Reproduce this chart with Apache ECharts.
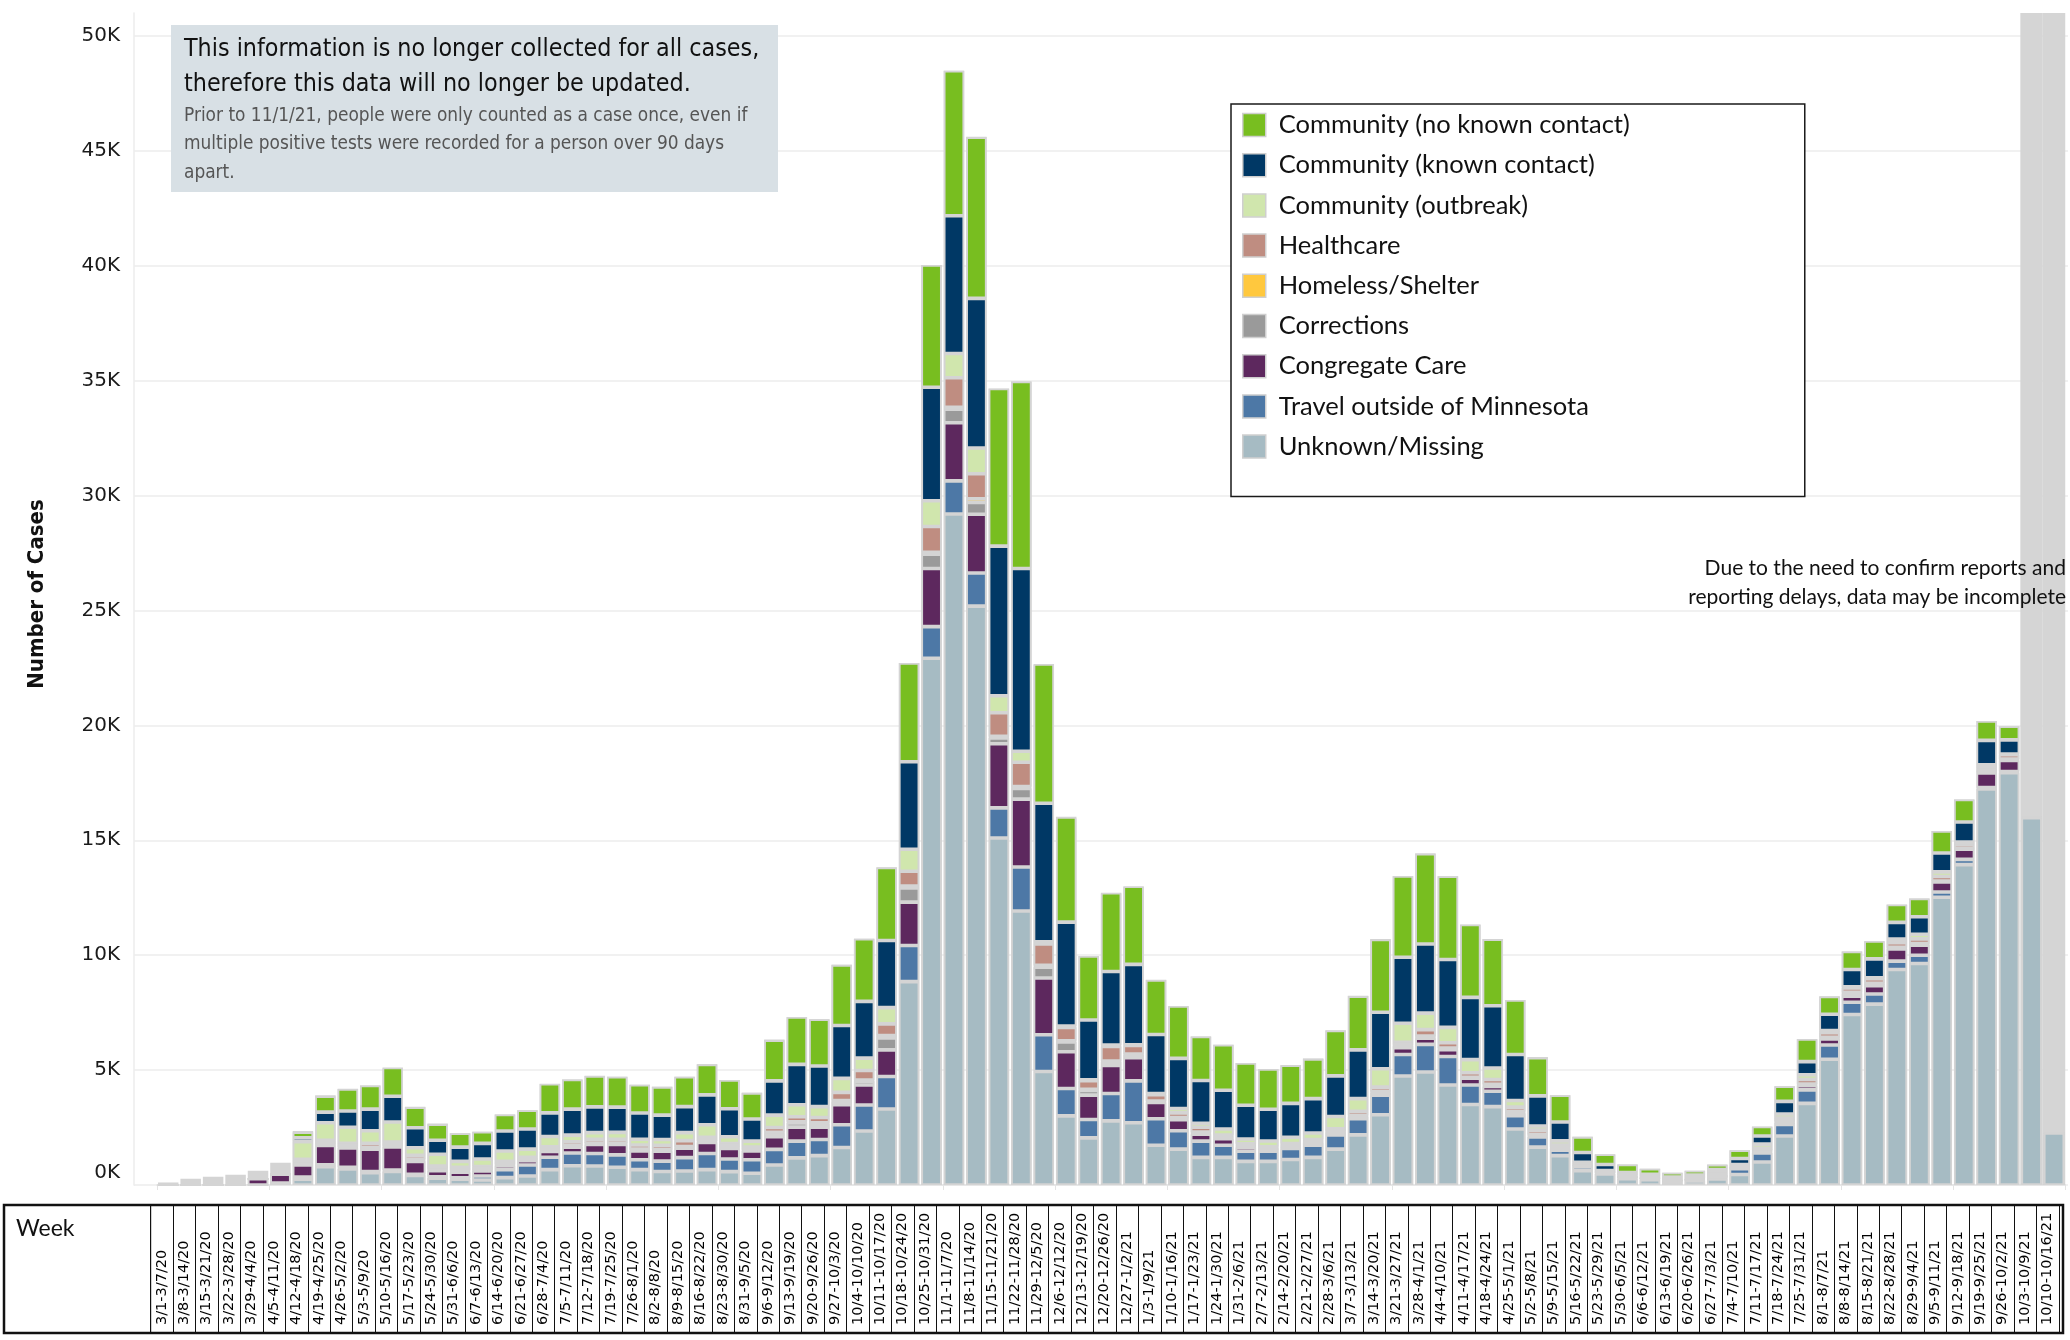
<!DOCTYPE html>
<html><head><meta charset="utf-8">
<script src="https://cdn.jsdelivr.net/npm/echarts@6/dist/echarts.min.js"></script>
<style>html,body{margin:0;padding:0;background:#fff}#c{width:2070px;height:1340px}</style>
</head><body><div id="c"></div>
<script>
const weeks = ['3/1-3/7/20','3/8-3/14/20','3/15-3/21/20','3/22-3/28/20','3/29-4/4/20','4/5-4/11/20','4/12-4/18/20','4/19-4/25/20','4/26-5/2/20','5/3-5/9/20','5/10-5/16/20','5/17-5/23/20','5/24-5/30/20','5/31-6/6/20','6/7-6/13/20','6/14-6/20/20','6/21-6/27/20','6/28-7/4/20','7/5-7/11/20','7/12-7/18/20','7/19-7/25/20','7/26-8/1/20','8/2-8/8/20','8/9-8/15/20','8/16-8/22/20','8/23-8/30/20','8/31-9/5/20','9/6-9/12/20','9/13-9/19/20','9/20-9/26/20','9/27-10/3/20','10/4-10/10/20','10/11-10/17/20','10/18-10/24/20','10/25-10/31/20','11/1-11/7/20','11/8-11/14/20','11/15-11/21/20','11/22-11/28/20','11/29-12/5/20','12/6-12/12/20','12/13-12/19/20','12/20-12/26/20','12/27-1/2/21','1/3-1/9/21','1/10-1/16/21','1/17-1/23/21','1/24-1/30/21','1/31-2/6/21','2/7-2/13/21','2/14-2/20/21','2/21-2/27/21','2/28-3/6/21','3/7-3/13/21','3/14-3/20/21','3/21-3/27/21','3/28-4/1/21','4/4-4/10/21','4/11-4/17/21','4/18-4/24/21','4/25-5/1/21','5/2-5/8/21','5/9-5/15/21','5/16-5/22/21','5/23-5/29/21','5/30-6/5/21','6/6-6/12/21','6/13-6/19/21','6/20-6/26/21','6/27-7/3/21','7/4-7/10/21','7/11-7/17/21','7/18-7/24/21','7/25-7/31/21','8/1-8/7/21','8/8-8/14/21','8/15-8/21/21','8/22-8/28/21','8/29-9/4/21','9/5-9/11/21','9/12-9/18/21','9/19-9/25/21','9/26-10/2/21','10/3-10/9/21','10/10-10/16/21'];

const unknownMissing = [0,0,0,0,0,90,250,800,700,530,590,420,300,250,220,320,390,670,840,830,770,670,590,610,670,580,510,870,1180,1280,1630,2350,3310,8850,22920,29200,25190,15100,11920,4940,3010,2050,2790,2710,1730,1560,1200,1200,1030,1030,1110,1200,1560,2180,3060,4740,4920,4350,3500,3410,2440,1650,1280,620,480,270,230,140,180,266,460,1000,2130,3550,5470,7420,7870,9380,9640,12520,13940,17230,17940,15980,2260];
const travel = [0,0,0,0,0,0,100,80,70,60,60,50,60,60,170,350,480,540,550,540,540,430,450,580,700,550,590,680,730,700,990,1130,1410,1570,1380,1440,1440,1310,1920,1600,1190,800,1190,1820,1150,800,710,530,440,440,480,530,620,710,850,940,1200,1240,850,670,580,440,230,170,60,60,50,40,40,90,250,390,500,590,620,530,440,360,360,230,230,60,50,0,0];
const congregateCare = [0,0,0,0,270,380,520,840,840,970,1010,560,260,250,220,170,190,250,260,390,450,380,430,410,480,460,380,550,610,540,870,870,1160,1890,2530,2530,2560,2790,2950,2470,1600,1060,1220,1010,710,480,300,280,160,100,100,120,110,80,100,300,270,300,300,210,100,60,80,40,20,15,15,10,10,15,20,60,80,180,270,270,360,530,440,440,440,640,480,0,0];
const corrections = [0,0,0,0,0,0,80,40,40,60,40,60,60,50,40,40,30,40,50,50,50,60,60,50,50,40,40,150,180,150,150,170,520,620,620,590,510,250,470,470,420,200,150,120,40,60,60,60,60,30,40,50,60,40,50,90,60,50,20,60,60,40,40,15,10,10,5,5,5,10,10,50,60,50,50,110,80,50,50,25,25,35,50,0,0];
const homelessShelter = [0,0,0,0,0,0,20,20,20,20,20,30,30,30,20,20,20,20,20,20,20,20,20,20,20,20,20,40,50,40,40,50,100,80,85,85,160,70,75,75,60,50,40,40,20,30,30,30,30,15,20,20,20,20,20,30,30,20,15,30,30,20,20,10,5,5,5,5,5,5,5,20,20,20,20,50,30,20,20,10,10,15,20,0,0];
const healthcare = [0,0,0,0,0,0,150,160,140,180,150,170,120,130,130,130,100,140,160,160,160,180,180,260,160,150,110,210,220,230,350,410,510,640,1120,1280,1090,1030,1060,930,580,380,640,370,280,210,210,70,70,50,50,60,80,180,180,110,280,230,200,210,180,180,90,40,20,20,15,10,10,20,30,80,120,200,200,200,200,200,200,200,160,160,180,0,0];
const communityOutbreak = [0,0,0,0,0,0,760,770,700,540,870,330,510,260,330,450,350,450,290,290,300,250,250,350,540,300,260,540,520,470,610,540,710,960,1120,1060,1120,740,480,100,60,40,60,30,50,190,180,270,210,250,280,280,530,550,800,830,720,670,570,500,290,180,180,90,30,50,40,40,50,130,110,180,180,210,90,40,40,160,200,200,120,140,30,0,0];
const communityKnown = [0,0,0,0,0,0,170,460,710,940,1120,870,610,620,680,870,880,1030,1130,1120,1100,1140,1060,1130,1300,1220,960,1490,1760,1770,2300,2470,2920,3810,4940,5990,6510,6510,7950,6030,4520,2600,3200,3500,2570,2180,1860,1680,1470,1380,1470,1500,1770,2120,2460,2870,3010,2950,2710,2710,2000,1310,820,430,270,110,110,100,130,140,270,355,550,570,710,760,820,730,760,820,870,1070,620,0,0];
const communityNoKnown = [0,0,0,0,0,0,250,690,960,1030,1250,900,700,600,510,720,810,1270,1290,1350,1320,1230,1230,1300,1330,1250,1140,1770,2060,2030,2640,2730,3180,4300,5320,6310,7020,6860,8140,6060,4580,2790,3430,3400,2370,2280,1910,1980,1840,1750,1660,1730,1980,2340,3170,3540,3930,3630,3170,2900,2370,1660,1170,680,440,350,240,180,190,210,355,410,660,980,780,780,780,780,800,960,980,840,590,0,0];
const weekTotals = [110,275,360,450,620,970,2350,3910,4190,4330,5070,3400,2680,2250,2320,3070,3250,4400,4590,4740,4710,4360,4270,4710,5250,4570,4010,6330,7300,7210,9580,10720,13830,22720,40030,48490,45610,34650,34970,22630,15960,9970,12690,12970,8930,7780,6460,6100,5310,5040,5220,5500,6720,8230,10700,13440,14420,13440,11320,10700,8050,5570,3910,2100,1330,890,710,530,620,890,1510,2540,4300,6340,8200,10160,10600,12200,12470,15400,16780,20190,19950,15980,2260];
const yTicks = [0,5000,10000,15000,20000,25000,30000,35000,40000,45000,50000];
const incompleteWeeks = ['10/3-10/9/21','10/10-10/16/21'];

const stackDefs = [
  ['Unknown/Missing', unknownMissing, '#a6bbc3'],
  ['Travel outside of Minnesota', travel, '#4d78a6'],
  ['Congregate Care', congregateCare, '#5d285e'],
  ['Corrections', corrections, '#9a9a9a'],
  ['Homeless/Shelter', homelessShelter, '#ffc83e'],
  ['Healthcare', healthcare, '#bf8d81'],
  ['Community (outbreak)', communityOutbreak, '#d0e6ad'],
  ['Community (known contact)', communityKnown, '#003865'],
  ['Community (no known contact)', communityNoKnown, '#78be20']
];
const legendOrder = stackDefs.map(d => d[0]).reverse();

const BORDER = '#d4d4d4';
const BAR_W = 20.5;
const YMAX = 51000;
const GRID_TOP = 13, GRID_BOTTOM = 155;
const NARROW = "'Liberation Sans Narrow', 'DejaVu Sans Condensed', Roboto";

const series = [{
  name: 'Incomplete', type: 'bar', xAxisIndex: 2, yAxisIndex: 3, barWidth: '100%', z: 1, silent: true,
  data: weeks.map(w => incompleteWeeks.indexOf(w) >= 0 ? YMAX : null),
  itemStyle: { color: '#d5d5d5' }
}, {
  name: 'Total', type: 'bar', data: weekTotals, xAxisIndex: 0, yAxisIndex: 0,
  barWidth: BAR_W, barGap: '-100%', z: 2, silent: true,
  itemStyle: { color: BORDER, borderColor: BORDER, borderWidth: 1.8 }
}];
stackDefs.forEach(([name, data, color]) => {
  series.push({
    name, type: 'bar', stack: 'cases', data, xAxisIndex: 0, yAxisIndex: 0,
    barWidth: BAR_W, barGap: '-100%', z: 3, silent: true,
    itemStyle: { color, borderColor: BORDER, borderWidth: 1.8 }
  });
});

const chart = echarts.init(document.getElementById('c'), null, { renderer: 'canvas' });
chart.setOption({
  animation: false,
  backgroundColor: '#fff',
  grid: [
    { left: 157, right: 4.75, top: GRID_TOP, bottom: GRID_BOTTOM },
    { left: 134, right: 2, top: GRID_TOP, bottom: GRID_BOTTOM },
    { left: 150.6, width: 85 * 22.45, top: 1205, height: 128 }
  ],
  xAxis: [
    { type: 'category', gridIndex: 0, data: weeks, boundaryGap: true,
      axisLabel: { show: false },
      axisTick: { show: true, length: 5, lineStyle: { color: '#e4e4e4' } },
      axisLine: { lineStyle: { color: '#e4e4e4', width: 1.5 } } },
    { type: 'category', gridIndex: 2, data: weeks, boundaryGap: true, position: 'bottom',
      axisLine: { show: false }, axisTick: { show: false },
      splitLine: { show: true, lineStyle: { color: '#111', width: 1 } },
      axisLabel: { inside: true, rotate: 90, margin: 8, interval: 0,
        fontFamily: 'DejaVu Sans', fontSize: 14.5, color: '#000' } },
    { type: 'category', gridIndex: 0, data: weeks, show: false },
    { type: 'value', gridIndex: 1, show: false, min: 0, max: 1 }
  ],
  yAxis: [
    { type: 'value', gridIndex: 0, min: 0, max: YMAX, show: false, splitLine: { show: false } },
    { type: 'value', gridIndex: 1, min: 0, max: YMAX, interval: 5000,
      axisLine: { show: true, lineStyle: { color: '#ececec', width: 1.5 } },
      axisTick: { show: false },
      splitLine: { show: true, showMaxLine: false, lineStyle: { color: '#ececec', width: 1.5 } },
      axisLabel: { margin: 14, fontFamily: 'DejaVu Sans', fontSize: 20, color: '#1a1a1a', showMaxLabel: false,
        formatter: v => yTicks.indexOf(v) < 0 ? '' : (v === 0 ? '{z|0K}' : (v / 1000) + 'K'),
        rich: { z: { fontFamily: 'DejaVu Sans', fontSize: 20, color: '#1a1a1a', padding: [0, 0, 24, 0] } } } },
    { type: 'value', gridIndex: 2, show: false },
    { type: 'value', gridIndex: 0, min: 0, max: YMAX, show: false, splitLine: { show: false } }
  ],
  legend: {
    orient: 'vertical', left: 1231, top: 104, data: legendOrder, selectedMode: false,
    icon: 'rect', itemWidth: 23, itemHeight: 23, itemGap: 14.2,
    padding: [8, 175, 37, 11], backgroundColor: '#fff', borderColor: '#1a1a1a', borderWidth: 1.5,
    itemStyle: { borderColor: '#cfcfcf', borderWidth: 1.5 },
    textStyle: { fontFamily: 'Lato', fontSize: 25.5, color: '#111', padding: [0, 0, 0, 8] }
  },
  graphic: [
    { type: 'rect', z: 100, shape: { x: 171, y: 25, width: 607, height: 167 }, style: { fill: '#d8e0e5' } },
    { type: 'text', z: 101, x: 184, y: 50, style: { text: 'This information is no longer collected for all cases,', font: "24.8px " + NARROW, fill: '#111', textVerticalAlign: 'middle' } },
    { type: 'text', z: 101, x: 184, y: 85, style: { text: 'therefore this data will no longer be updated.', font: "24.8px " + NARROW, fill: '#111', textVerticalAlign: 'middle' } },
    { type: 'text', z: 101, x: 184, y: 116, style: { text: 'Prior to 11/1/21, people were only counted as a case once, even if', font: "18.9px " + NARROW, fill: '#555', textVerticalAlign: 'middle' } },
    { type: 'text', z: 101, x: 184, y: 144, style: { text: 'multiple positive tests were recorded for a person over 90 days', font: "18.9px " + NARROW, fill: '#555', textVerticalAlign: 'middle' } },
    { type: 'text', z: 101, x: 184, y: 173, style: { text: 'apart.', font: "18.9px " + NARROW, fill: '#555', textVerticalAlign: 'middle' } },
    { type: 'text', z: 101, x: 2066, y: 568, style: { text: 'Due to the need to confirm reports and', font: "21px Lato", fill: '#111', textAlign: 'right', textVerticalAlign: 'middle' } },
    { type: 'text', z: 101, x: 2066, y: 597, style: { text: 'reporting delays, data may be incomplete', font: "21px Lato", fill: '#111', textAlign: 'right', textVerticalAlign: 'middle' } },
    { type: 'text', z: 101, x: 37, y: 594, rotation: Math.PI / 2, style: { text: 'Number of Cases', font: "bold 22px " + NARROW, fill: '#111', textAlign: 'center', textVerticalAlign: 'middle' } },
    { type: 'rect', z: 100, shape: { x: 4, y: 1205, width: 2059, height: 128 }, style: { fill: 'none', stroke: '#111', lineWidth: 2.5 } },
    { type: 'line', z: 100, shape: { x1: 150.6, y1: 1205, x2: 150.6, y2: 1333 }, style: { stroke: '#111', lineWidth: 1.2 } },
    { type: 'text', z: 101, x: 16, y: 1229, style: { text: 'Week', font: "23px Lato", fill: '#111', textVerticalAlign: 'middle' } }
  ],
  series
});
</script>
</body></html>
